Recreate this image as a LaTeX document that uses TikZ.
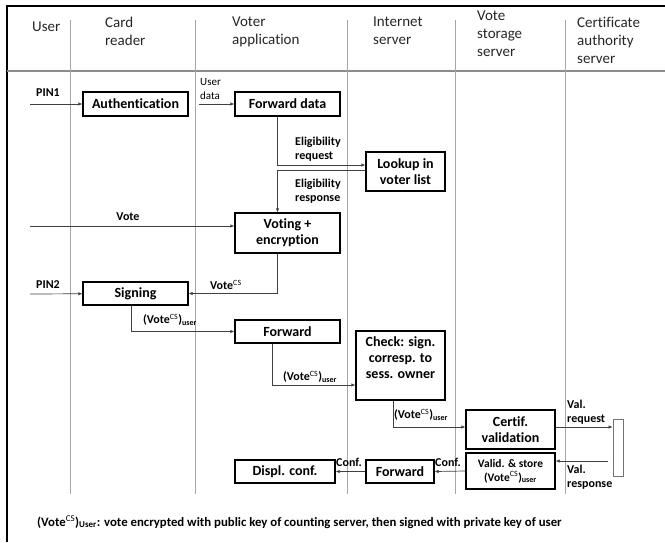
\documentclass[tikz,border=0pt]{standalone}
\usepackage{fontspec}
\setmainfont{Carlito}[Ligatures=NoCommon]
\usepackage{tikz}
\usetikzlibrary{arrows.meta}

\tikzset{
  lane/.style={draw=black!35, line width=0.6pt},
  stepbox/.style={draw, line width=1.2pt, align=center, inner sep=1pt,
    font=\fontsize{14}{16}\selectfont\bfseries},
  hdr/.style={anchor=north west, align=left, inner sep=0pt, text=black!85,
    font=\fontsize{15}{18}\selectfont},
  lbl/.style={anchor=west, align=left, inner sep=0pt,
    font=\fontsize{12}{14}\selectfont\bfseries},
  conn/.style={->, draw=black!75, line width=0.7pt},
}
\newcommand{\vcs}{(Vote\textsuperscript{\mdseries CS})\textsubscript{user}}

\begin{document}
\begin{tikzpicture}[x=1pt, y=-1pt, >={Latex[length=4pt,width=3.5pt]}]
\useasboundingbox (0,0) rectangle (665,542);

% frame, header row and lanes
\draw[line width=1.5pt] (7,542) -- (7,6) -- (665,6);
\draw[draw=black!45, line width=1.2pt] (7,71) -- (665,71);
\foreach \x in {70,195,347,455,565}
  \draw[lane] (\x,20) -- (\x,494);

\node[hdr] (hUser) at (32,22) {User};
\node[hdr] (hCard) at (105,17) {Card\\reader};
\node[hdr] (hApp) at (232,17) {Voter\\application};
\node[hdr] (hNet) at (373,17) {Internet\\server};
\node[hdr] (hStore) at (477,11) {Vote\\storage\\server};
\node[hdr] (hCA) at (577,17) {Certificate\\authority\\server};

% steps
\node[stepbox, minimum width=105pt, minimum height=24pt] (auth) at (135.5,104) {Authentication};
\node[stepbox, minimum width=105pt, minimum height=24pt] (fwddata) at (287.5,104) {Forward data};
\node[stepbox, minimum width=79pt, minimum height=39pt] (lookup) at (405.5,171.5) {Lookup in\\voter list};
\node[stepbox, minimum width=105pt, minimum height=40pt] (voting) at (287.5,233) {Voting +\\encryption};
\node[stepbox, minimum width=105pt, minimum height=23pt] (signing) at (135.5,293.5) {Signing};
\node[stepbox, minimum width=105pt, minimum height=23pt] (fwdA) at (287.5,331.5) {Forward};
\node[stepbox, minimum width=89pt, minimum height=69pt] (check) at (400.5,365.5) {Check: sign.\\corresp. to\\sess. owner\\ \mbox{}};
\node[stepbox, minimum width=89pt, minimum height=39pt] (certif) at (510.5,429.5) {Certif.\\validation};
\node[stepbox, minimum width=89pt, minimum height=36pt, font=\fontsize{11.5}{14}\selectfont\bfseries] (store) at (510.5,471) {Valid. \& store\\\vcs};
\node[stepbox, minimum width=68pt, minimum height=23pt] (fwdB) at (400,471.5) {Forward};
\node[stepbox, minimum width=100pt, minimum height=23pt] (displ) at (285,471.5) {Displ. conf.};
\node[draw=black!55, line width=0.8pt, minimum width=10pt, minimum height=57pt, inner sep=0pt] (ca) at (618,447.5) {};

% free ends
\coordinate (pinA) at (30,104);
\coordinate (udata) at (199,104);
\coordinate (vote) at (30,226);
\coordinate (pinB) at (30,294);
\coordinate (valresp) at (608,461);

% connectors
\draw[conn] (pinA) -- (auth);
\node[lbl, anchor=center] (lPinA) at (48,93) {PIN1};
\draw[conn] (udata) -- (fwddata);
\node[lbl, font=\fontsize{11}{14}\selectfont] (lUdata) at (200,89) {User\\data};
\draw[conn] ([xshift=-10pt]fwddata.south) |- ([yshift=6.5pt]lookup.west);
\node[lbl] (lReq) at (295,149) {Eligibility\\request};
\draw[conn] ([yshift=1.5pt]lookup.west) -| ([xshift=-10pt]voting.north);
\node[lbl] (lResp) at (295,191.5) {Eligibility\\response};
\draw[conn] (vote) -- (vote -| voting.west);
\node[lbl, anchor=center] (lVote) at (128,217) {Vote};
\draw[conn] ([xshift=-10pt]voting.south) |- (signing.east);
\node[lbl] (lVcs) at (210,285) {Vote\textsuperscript{\mdseries CS}};
\draw[conn] (pinB) -- (signing);
\node[lbl, anchor=center] (lPinB) at (48,285) {PIN2};
\draw[conn] ([xshift=-4.5pt]signing.south) |- (fwdA.west);
\node[lbl] (lSig) at (143,320) {\vcs};
\draw[conn] ([xshift=-15.5pt]fwdA.south) |- ([yshift=-19.5pt]check.west);
\node[lbl] (lFwd) at (283,377) {\vcs};
\draw[conn] ([xshift=-7.5pt]check.south) |- ([yshift=2.5pt]certif.west);
\node[lbl] (lChk) at (394,415) {\vcs};
\draw[conn] ([yshift=2.5pt]certif.east) -- ([yshift=2.5pt]certif.east -| ca.west);
\node[lbl] (lValReq) at (567,412.5) {Val.\\request};
\draw[conn] (valresp) -- (valresp -| store.east);
\node[lbl] (lValResp) at (567,477.5) {Val.\\response};
\draw[conn] (store.west) -- (fwdB.east);
\node[lbl, anchor=center] (lConfA) at (448,462) {Conf.};
\draw[conn] (fwdB.west) -- (displ.east);
\node[lbl, anchor=center] (lConfB) at (349,462) {Conf.};

% note
\node[lbl, font=\fontsize{12.8}{14}\selectfont\bfseries] (note) at (37,522)
  {(Vote\textsuperscript{\mdseries CS})\textsubscript{User}: vote encrypted with public key of counting server, then signed with private key of user};
\end{tikzpicture}
\end{document}
